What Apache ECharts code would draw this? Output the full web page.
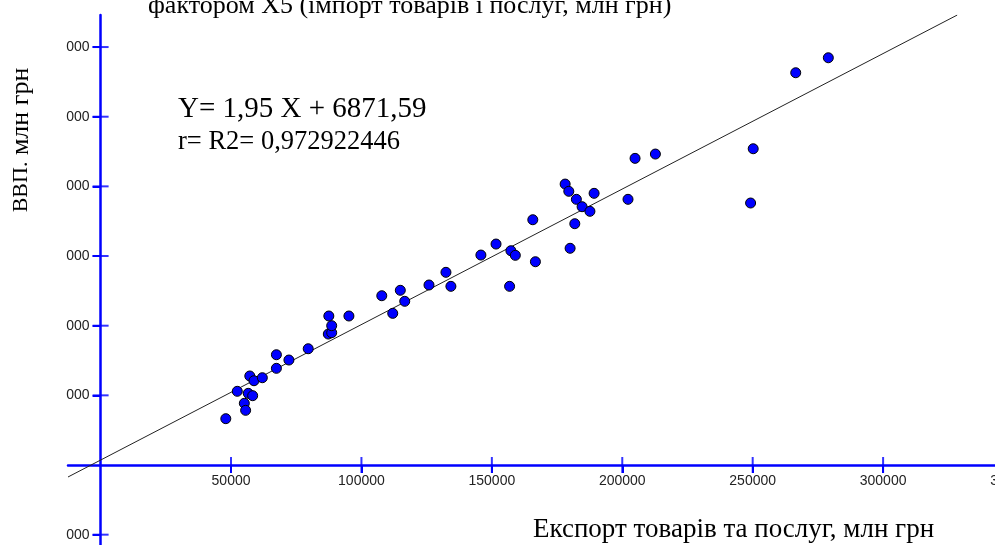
<!DOCTYPE html>
<html>
<head>
<meta charset="utf-8">
<script src="https://cdn.jsdelivr.net/npm/echarts@6/dist/echarts.min.js"></script>
<style>
  html, body { margin: 0; padding: 0; background: #fff; }
  #chart { width: 995px; height: 545px; }
</style>
</head>
<body>
<div id="chart"></div>
<script>
// експорт товарів та послуг, млн грн (вісь X)
const exportValues = [
  48000, 52400, 55100, 55600, 56600, 58300, 57200, 58800, 62000, 67400,
  67400, 72200, 79600, 87300, 88600, 88600, 87500, 95200, 107800, 112000,
  114900, 116600, 125900, 132400, 134300, 145800, 151600, 157300, 159000, 156800,
  166700, 165700, 178100, 179500, 182400, 184600, 187600, 189200, 181800, 180000,
  202200, 204900, 212700, 250200, 249200, 266500, 279000
]
// ВВП, млн грн (вісь Y)
const gdpValues = [
  66500, 105800, 88600, 78500, 102900, 99500, 127800, 121000, 125300, 138800,
  158300, 150700, 166900, 188000, 189900, 200000, 213900, 213900, 243000, 217700,
  250800, 235000, 258400, 276600, 256500, 301400, 317200, 307600, 301000, 256500,
  291800, 352100, 403300, 392900, 381400, 370800, 364200, 390000, 346400, 311100,
  381400, 440200, 446400, 454000, 376100, 563100, 584600
]
// лінія регресії: кінці
const trendX = [-12500, 328400]
const trendY = [-17200, 645900]

// поділки осей
const xTicks = [50000, 100000, 150000, 200000, 250000, 300000, 350000]
const yTicks = [-100000, 100000, 200000, 300000, 400000, 500000, 600000]
const yTickLabels = ['000', '000', '000', '000', '000', '000', '000']

const points = exportValues.map((x, i) => [x, gdpValues[i]])
const trend = trendX.map((x, i) => [x, trendY[i]])
// хрестоподібні поділки на осях (позиції беруться зі шкал)
const xCross = xTicks.map(v => [v, 0])
const yCross = yTicks.map(v => [0, v])

const blue = '#0000ff'
const serif = '"Liberation Serif", "Times New Roman", serif'
const sans = '"Liberation Sans", Arial, sans-serif'

const xMin = -12500, xMax = 360000
const yMin = -150000, yMax = 646000

const chart = echarts.init(document.getElementById('chart'))

// осі перетинаються в нулі: зсуваємо їх усередину сітки
const xOffset = -104.5
const yOffset = -32.6

const option = {
  animation: false,
  backgroundColor: '#fff',
  grid: { left: 68, top: 15, right: -44.6, bottom: -24.5, containLabel: false, outerBoundsMode: 'none' },
  xAxis: {
    type: 'value', min: xMin, max: xMax, position: 'bottom', offset: xOffset,
    axisLine: { onZero: false, lineStyle: { color: blue, width: 2.5 } },
    axisTick: { show: true, length: 8, customValues: xTicks, lineStyle: { color: blue, width: 2 } },
    axisLabel: {
      customValues: xTicks, margin: 9, color: '#222',
      fontFamily: sans, fontSize: 14, formatter: v => String(v)
    },
    splitLine: { show: false }
  },
  yAxis: {
    type: 'value', min: yMin, max: yMax, position: 'left', offset: yOffset,
    axisLine: { onZero: false, lineStyle: { color: blue, width: 2.5 } },
    axisTick: { show: true, length: 8, customValues: yTicks, lineStyle: { color: blue, width: 2 } },
    axisLabel: {
      customValues: yTicks, margin: 11, color: '#222',
      fontFamily: sans, fontSize: 14,
      formatter: v => yTickLabels[yTicks.indexOf(v)] || ''
    },
    splitLine: { show: false }
  },
  series: [
    {
      type: 'scatter', data: xCross, symbol: 'rect', symbolSize: [2, 16],
      itemStyle: { color: blue }, silent: true, z: 1
    },
    {
      type: 'scatter', data: yCross, symbol: 'rect', symbolSize: [16, 2],
      itemStyle: { color: blue }, silent: true, z: 1
    },
    {
      type: 'line',
      data: trend,
      symbol: 'none',
      lineStyle: { color: '#222', width: 1 },
      z: 2
    },
    {
      type: 'scatter',
      data: points,
      symbolSize: 10,
      itemStyle: { color: blue, borderColor: '#000', borderWidth: 1, opacity: 1 },
      z: 3
    }
  ],
  graphic: [
    {
      type: 'text', x: 148, y: 6.5,
      style: { text: 'фактором Х5 (імпорт товарів і послуг, млн грн)', font: '26px ' + serif,
        fill: '#000', textAlign: 'left', textVerticalAlign: 'middle' }
    },
    {
      type: 'text', x: 178, y: 109.6,
      style: { text: 'Y= 1,95 X + 6871,59', font: '29px ' + serif,
        fill: '#000', textAlign: 'left', textVerticalAlign: 'middle' }
    },
    {
      type: 'text', x: 178, y: 142.5,
      style: { text: 'r= R2= 0,972922446', font: '26.5px ' + serif,
        fill: '#000', textAlign: 'left', textVerticalAlign: 'middle' }
    },
    {
      type: 'text', x: 533, y: 529.5,
      style: { text: 'Експорт товарів та послуг, млн грн', font: '27px ' + serif,
        fill: '#000', textAlign: 'left', textVerticalAlign: 'middle' }
    },
    {
      type: 'text', x: 21, y: 140, rotation: Math.PI / 2,
      style: {
        text: '{a|ВВП.}{b| млн грн}',
        fill: '#000', textAlign: 'center', textVerticalAlign: 'middle',
        rich: {
          a: { fontFamily: serif, fontSize: 22, fill: '#000' },
          b: { fontFamily: serif, fontSize: 26, fill: '#000' }
        }
      }
    }
  ]
}

chart.setOption(option)
</script>
</body>
</html>
